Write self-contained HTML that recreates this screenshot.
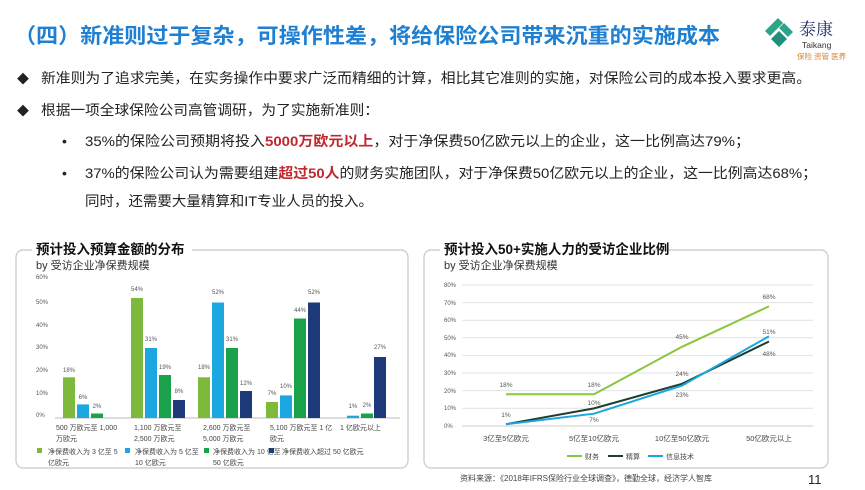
<!DOCTYPE html>
<html><head><meta charset="utf-8"><style>
html,body{margin:0;padding:0;background:#fff;}
svg{display:block;font-family:"Liberation Sans","Noto Sans CJK SC",sans-serif;}
</style></head><body>
<svg width="865" height="490" viewBox="0 0 865 490" xmlns="http://www.w3.org/2000/svg">
<rect width="865" height="490" fill="#fff"/>
<!-- title -->
<text x="14" y="43" font-size="21" font-weight="bold" fill="#1f7fd0" textLength="706" lengthAdjust="spacingAndGlyphs">（四）新准则过于复杂，可操作性差，将给保险公司带来沉重的实施成本</text>
<!-- logo -->
<polygon points="765,31 778,18 783,23 770,36" fill="#2aa58a"/>
<polygon points="784,23 793,32 788,37 779,28" fill="#2aa58a"/>
<polygon points="771,39 779,31 787,39 779,47" fill="#1e8f78"/>
<text x="799" y="35" font-size="17" fill="#1d2d6b" font-family="Noto Serif CJK SC,serif">泰康</text>
<text x="802" y="48" font-size="8.5" fill="#333">Taikang</text>
<text x="797" y="59" font-size="7.5" fill="#d9822b">保险 资管 医养</text>
<!-- bullets -->
<g font-size="14" fill="#222">
<text x="17" y="83" font-size="12">◆</text>
<text x="41" y="83" textLength="770" lengthAdjust="spacingAndGlyphs">新准则为了追求完美，在实务操作中要求广泛而精细的计算，相比其它准则的实施，对保险公司的成本投入要求更高。</text>
<text x="17" y="115" font-size="12">◆</text>
<text x="41" y="115" textLength="338" lengthAdjust="spacingAndGlyphs">根据一项全球保险公司高管调研，为了实施新准则：</text>
<text x="62" y="146">•</text>
<text x="85" y="146" textLength="665" lengthAdjust="spacingAndGlyphs">35%的保险公司预期将投入<tspan fill="#c0272d" font-weight="bold">5000万欧元以上</tspan>，对于净保费50亿欧元以上的企业，这一比例高达79%；</text>
<text x="62" y="178">•</text>
<text x="85" y="178" textLength="732" lengthAdjust="spacingAndGlyphs">37%的保险公司认为需要组建<tspan fill="#c0272d" font-weight="bold">超过50人</tspan>的财务实施团队，对于净保费50亿欧元以上的企业，这一比例高达68%；</text>
<text x="85" y="206" textLength="288" lengthAdjust="spacingAndGlyphs">同时，还需要大量精算和IT专业人员的投入。</text>
</g>
<!-- LEFT CHART -->
<rect x="16" y="250" width="392" height="218" rx="7" fill="none" stroke="#c8c8c8" stroke-width="1.2"/>
<rect x="32" y="240" width="160" height="20" fill="#fff"/>
<text x="36" y="254" font-size="13.5" font-weight="bold" fill="#111">预计投入预算金额的分布</text>
<text x="36" y="269" font-size="11" fill="#333">by 受访企业净保费规模</text>
<g font-size="6" fill="#555">
<text x="36" y="279">60%</text><text x="36" y="304">50%</text><text x="36" y="327">40%</text>
<text x="36" y="349">30%</text><text x="36" y="372">20%</text><text x="36" y="395">10%</text><text x="36" y="417">0%</text>
</g>
<line x1="55" y1="418" x2="400" y2="418" stroke="#bbb" stroke-width="1"/>
<g>
<rect x="63" y="377.3" width="12" height="40.7" fill="#7dba3c"/>
<rect x="77" y="404.4" width="12" height="13.6" fill="#1ba8e0"/>
<rect x="91" y="413.5" width="12" height="4.5" fill="#1aa24a"/>
<rect x="131" y="298" width="12" height="120" fill="#7dba3c"/>
<rect x="145" y="348" width="12" height="70" fill="#1ba8e0"/>
<rect x="159" y="375" width="12" height="43" fill="#1aa24a"/>
<rect x="173" y="400" width="12" height="18" fill="#1f3a7a"/>
<rect x="198" y="377.3" width="12" height="40.7" fill="#7dba3c"/>
<rect x="212" y="302.5" width="12" height="115.5" fill="#1ba8e0"/>
<rect x="226" y="348" width="12" height="70" fill="#1aa24a"/>
<rect x="240" y="391" width="12" height="27" fill="#1f3a7a"/>
<rect x="266" y="402" width="12" height="16" fill="#7dba3c"/>
<rect x="280" y="395.4" width="12" height="22.6" fill="#1ba8e0"/>
<rect x="294" y="318.5" width="12" height="99.5" fill="#1aa24a"/>
<rect x="308" y="302.5" width="12" height="115.5" fill="#1f3a7a"/>
<rect x="347" y="415.7" width="12" height="2.3" fill="#1ba8e0"/>
<rect x="361" y="413.5" width="12" height="4.5" fill="#1aa24a"/>
<rect x="374" y="357" width="12" height="61" fill="#1f3a7a"/>
</g>
<g font-size="6" fill="#555" text-anchor="middle">
<text x="69" y="372">18%</text><text x="83" y="399">6%</text><text x="97" y="408">2%</text>
<text x="137" y="291">54%</text><text x="151" y="341">31%</text><text x="165" y="369">19%</text><text x="179" y="393">8%</text>
<text x="204" y="369">18%</text><text x="218" y="294">52%</text><text x="232" y="341">31%</text><text x="246" y="385">12%</text>
<text x="272" y="395">7%</text><text x="286" y="388">10%</text><text x="300" y="312">44%</text><text x="314" y="294">52%</text>
<text x="353" y="408">1%</text><text x="367" y="407">2%</text><text x="380" y="349">27%</text>
</g>
<g font-size="7" fill="#444">
<text x="56" y="430">500 万欧元至 1,000</text><text x="56" y="441">万欧元</text>
<text x="134" y="430">1,100 万欧元至</text><text x="134" y="441">2,500 万欧元</text>
<text x="203" y="430">2,600 万欧元至</text><text x="203" y="441">5,000 万欧元</text>
<text x="270" y="430">5,100 万欧元至 1 亿</text><text x="270" y="441">欧元</text>
<text x="340" y="430">1 亿欧元以上</text>
</g>
<g font-size="7" fill="#444">
<rect x="37" y="448" width="5" height="5" fill="#7dba3c"/><text x="48" y="454">净保费收入为 3 亿至 5</text><text x="48" y="465">亿欧元</text>
<rect x="125" y="448" width="5" height="5" fill="#1ba8e0"/><text x="135" y="454">净保费收入为 5 亿至</text><text x="135" y="465">10 亿欧元</text>
<rect x="204" y="448" width="5" height="5" fill="#1aa24a"/><text x="213" y="454">净保费收入为 10 亿至</text><text x="213" y="465">50 亿欧元</text>
<rect x="269" y="448" width="5" height="5" fill="#1f3a7a"/><text x="282" y="454">净保费收入超过 50 亿欧元</text>
</g>
<!-- RIGHT CHART -->
<rect x="424" y="250" width="404" height="218" rx="7" fill="none" stroke="#c8c8c8" stroke-width="1.2"/>
<rect x="440" y="240" width="210" height="20" fill="#fff"/>
<text x="444" y="254" font-size="13.5" font-weight="bold" fill="#111">预计投入50+实施人力的受访企业比例</text>
<text x="444" y="269" font-size="11" fill="#333">by 受访企业净保费规模</text>
<g stroke="#e2e2e2" stroke-width="1">
<line x1="462" y1="285" x2="813" y2="285"/><line x1="462" y1="302.6" x2="813" y2="302.6"/>
<line x1="462" y1="320.2" x2="813" y2="320.2"/><line x1="462" y1="337.8" x2="813" y2="337.8"/>
<line x1="462" y1="355.4" x2="813" y2="355.4"/><line x1="462" y1="373" x2="813" y2="373"/>
<line x1="462" y1="390.6" x2="813" y2="390.6"/><line x1="462" y1="408.2" x2="813" y2="408.2"/>
</g>
<line x1="462" y1="426" x2="813" y2="426" stroke="#ccc" stroke-width="1"/>
<g font-size="6" fill="#555">
<text x="444" y="287">80%</text><text x="444" y="305">70%</text><text x="444" y="322">60%</text>
<text x="444" y="340">50%</text><text x="444" y="357">40%</text><text x="444" y="375">30%</text>
<text x="444" y="393">20%</text><text x="444" y="410">10%</text><text x="444" y="428">0%</text>
</g>
<polyline points="506,394.3 594,394.3 682,346.8 769,306.3" fill="none" stroke="#8cc63f" stroke-width="2"/>
<polyline points="506,424.2 594,408.4 682,383.8 769,341.5" fill="none" stroke="#1e3d2e" stroke-width="2"/>
<polyline points="506,424.2 594,413.7 682,385.6 769,336.2" fill="none" stroke="#1aa6df" stroke-width="2"/>
<g font-size="6.5" fill="#555" text-anchor="middle">
<text x="506" y="387">18%</text><text x="594" y="387">18%</text><text x="682" y="339">45%</text><text x="769" y="299">68%</text>
<text x="506" y="417">1%</text><text x="594" y="405">10%</text><text x="682" y="376">24%</text><text x="769" y="356">48%</text>
<text x="594" y="422">7%</text><text x="682" y="397">23%</text><text x="769" y="334">51%</text>
</g>
<g font-size="7.5" fill="#444" text-anchor="middle">
<text x="506" y="441">3亿至5亿欧元</text><text x="594" y="441">5亿至10亿欧元</text>
<text x="682" y="441">10亿至50亿欧元</text><text x="769" y="441">50亿欧元以上</text>
</g>
<g font-size="7" fill="#444">
<line x1="567" y1="456" x2="582" y2="456" stroke="#8cc63f" stroke-width="2"/><text x="585" y="459">财务</text>
<line x1="608" y1="456" x2="623" y2="456" stroke="#1e3d2e" stroke-width="2"/><text x="626" y="459">精算</text>
<line x1="648" y1="456" x2="663" y2="456" stroke="#1aa6df" stroke-width="2"/><text x="666" y="459">信息技术</text>
</g>
<text x="460" y="481" font-size="8" fill="#444">资料来源：《2018年IFRS保险行业全球调查》，德勤全球，经济学人智库</text>
<text x="808" y="484" font-size="13" fill="#222">11</text>
</svg>
</body></html>
